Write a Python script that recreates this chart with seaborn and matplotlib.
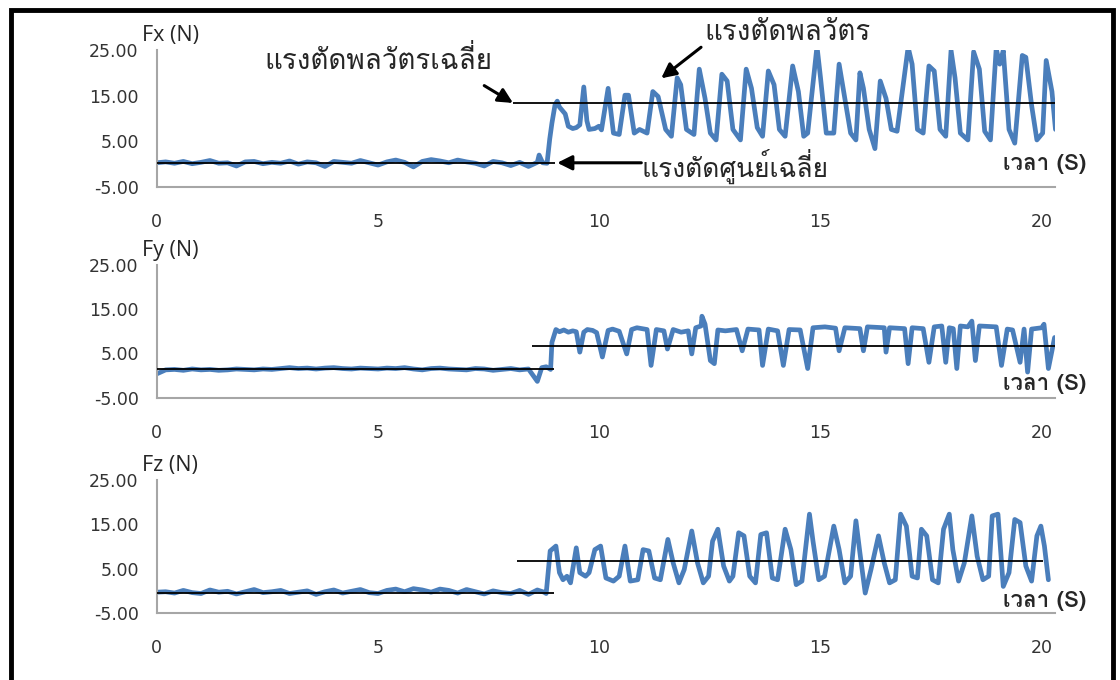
"""
Cutting forces Fx, Fy, Fz against time, idle and cutting phases
with the mean-force lines.
"""

import numpy as np
import matplotlib
matplotlib.use('Agg')
import matplotlib.pyplot as plt
from matplotlib import font_manager
from matplotlib.patches import Rectangle
import seaborn as sns

# ---------------------------------------------------------------- data
# idle part (tool not cutting), sampled every 0.2 s from 0 to 8.6 s
idle_step = 0.2
fx_idle = [0.3, 0.5, 0.2, 0.6, 0.1, 0.4, 0.8, 0.2, 0.3, -0.4,
           0.5, 0.6, 0.1, 0.4, 0.2, 0.7, 0.0, 0.5, 0.3, -0.5,
           0.6, 0.4, 0.2, 0.8, 0.3, -0.2, 0.5, 0.9, 0.4, -0.6,
           0.6, 1.0, 0.7, 0.3, 0.9, 0.5, 0.2, -0.4, 0.6, 0.3,
           -0.3, 0.4, -0.5, 0.4]
fy_idle = [0.4, 1.3, 1.4, 1.2, 1.5, 1.3, 1.4, 1.2, 1.3, 1.5,
           1.4, 1.3, 1.5, 1.4, 1.6, 1.8, 1.6, 1.7, 1.5, 1.7,
           1.8, 1.6, 1.5, 1.7, 1.6, 1.5, 1.7, 1.6, 1.8, 1.5,
           1.3, 1.6, 1.7, 1.5, 1.4, 1.3, 1.6, 1.5, 1.2, 1.4,
           1.6, 1.3, 1.5, -1.3]
fz_idle = [-0.3, -0.2, -0.5, 0.1, -0.4, -0.6, 0.2, -0.3, -0.1, -0.7,
           -0.2, 0.3, -0.4, -0.2, 0.1, -0.6, -0.3, 0.0, -0.8, -0.2,
           0.2, -0.5, -0.1, 0.3, -0.4, -0.6, 0.1, 0.4, -0.2, 0.5,
           0.2, -0.3, 0.4, 0.1, -0.5, 0.3, -0.2, -0.7, 0.0, -0.4,
           -0.6, 0.1, -0.8, 0.2]

# cutting part, peaks and troughs
fx_cut_t = [8.64, 8.72, 8.82, 8.88, 8.93, 9.00, 9.05, 9.10, 9.23, 9.30,
            9.40, 9.48, 9.56, 9.65, 9.72, 9.77, 9.90, 9.99, 10.05, 10.20,
            10.32, 10.45, 10.58, 10.66, 10.79, 10.91, 11.08, 11.21, 11.33, 11.50,
            11.63, 11.76, 11.84, 11.97, 12.14, 12.26, 12.39, 12.51, 12.64, 12.77,
            12.89, 13.02, 13.19, 13.32, 13.44, 13.57, 13.69, 13.82, 13.95, 14.07,
            14.20, 14.37, 14.50, 14.62, 14.71, 14.92, 15.00, 15.13, 15.30, 15.42,
            15.55, 15.68, 15.80, 15.89, 15.97, 16.10, 16.23, 16.35, 16.48, 16.60,
            16.73, 16.98, 17.07, 17.19, 17.32, 17.45, 17.57, 17.70, 17.83, 17.95,
            18.04, 18.16, 18.33, 18.46, 18.59, 18.71, 18.84, 18.97, 19.05, 19.13,
            19.26, 19.39, 19.56, 19.64, 19.77, 19.89, 20.02, 20.10, 20.23, 20.31]
fx_cut = [2.0, 0.3, 0.2, 5.5, 9.0, 13.0, 13.8, 12.5, 11.0, 8.3,
          7.8, 8.0, 8.6, 16.9, 9.5, 7.6, 7.8, 8.3, 7.5, 16.6,
          6.8, 6.5, 15.1, 15.1, 6.8, 7.6, 6.8, 15.9, 14.8, 7.6,
          6.1, 18.9, 17.4, 7.6, 6.5, 20.8, 14.4, 6.8, 5.3, 19.7,
          18.2, 7.6, 5.3, 20.8, 16.6, 8.0, 6.1, 20.4, 17.4, 7.6,
          6.1, 21.5, 15.9, 6.1, 6.8, 25.8, 18.9, 6.8, 6.8, 21.9,
          14.4, 6.8, 5.3, 20.0, 16.6, 7.6, 3.4, 18.2, 14.4, 7.6,
          7.2, 25.6, 21.9, 7.6, 6.8, 21.5, 20.4, 7.6, 6.1, 24.9,
          18.9, 6.8, 5.3, 24.6, 20.8, 7.2, 5.3, 25.3, 21.9, 24.9,
          7.6, 4.6, 23.8, 23.4, 12.9, 5.3, 6.8, 22.7, 15.9, 7.6]

fy_cut_t = [8.70, 8.80, 8.90, 8.93, 9.02, 9.10, 9.20, 9.30, 9.40, 9.48,
            9.56, 9.65, 9.73, 9.85, 9.94, 10.07, 10.20, 10.30, 10.45, 10.62,
            10.73, 10.85, 11.08, 11.17, 11.29, 11.46, 11.54, 11.67, 11.85, 12.01,
            12.09, 12.18, 12.30, 12.32, 12.39, 12.51, 12.60, 12.68, 12.85, 13.10,
            13.23, 13.36, 13.61, 13.69, 13.82, 14.03, 14.16, 14.29, 14.54, 14.71,
            14.83, 15.10, 15.34, 15.42, 15.55, 15.89, 15.97, 16.06, 16.44, 16.48,
            16.56, 16.90, 16.98, 17.07, 17.32, 17.45, 17.57, 17.74, 17.83, 17.91,
            18.00, 18.08, 18.16, 18.33, 18.42, 18.50, 18.59, 18.97, 19.09, 19.22,
            19.34, 19.51, 19.60, 19.68, 19.77, 20.00, 20.05, 20.15, 20.29]
fy_cut = [1.8, 2.0, 1.4, 7.5, 10.4, 9.9, 10.3, 9.8, 10.1, 9.9,
          5.3, 9.8, 10.4, 10.2, 9.7, 4.2, 10.2, 10.5, 10.0, 4.9,
          10.4, 10.8, 10.4, 2.3, 10.4, 10.1, 6.0, 10.4, 9.8, 10.1,
          4.9, 10.8, 11.2, 13.4, 11.6, 3.4, 2.7, 10.3, 10.1, 10.4,
          5.6, 10.5, 10.3, 2.3, 10.5, 10.1, 2.3, 10.4, 10.3, 1.6,
          10.8, 11.0, 10.7, 5.6, 10.8, 10.6, 5.6, 11.0, 10.8, 5.3,
          10.8, 10.6, 2.7, 10.8, 10.6, 3.0, 11.0, 11.2, 3.0, 10.8,
          10.6, 1.6, 11.2, 11.0, 12.3, 3.4, 11.2, 11.0, 2.3, 10.5,
          10.3, 3.0, 10.5, 0.8, 10.5, 10.8, 11.6, 1.6, 8.6]

fz_cut_t = [8.75, 8.80, 8.85, 8.89, 9.02, 9.10, 9.18, 9.27, 9.35, 9.48,
            9.56, 9.69, 9.77, 9.90, 10.03, 10.15, 10.32, 10.45, 10.58, 10.70,
            10.87, 10.99, 11.12, 11.25, 11.38, 11.55, 11.67, 11.80, 11.92, 12.09,
            12.22, 12.35, 12.47, 12.56, 12.68, 12.81, 12.94, 13.02, 13.15, 13.27,
            13.40, 13.53, 13.65, 13.78, 13.91, 14.03, 14.20, 14.33, 14.45, 14.58,
            14.75, 14.83, 14.96, 15.09, 15.30, 15.42, 15.55, 15.68, 15.80, 15.89,
            16.01, 16.14, 16.31, 16.44, 16.56, 16.69, 16.81, 16.94, 17.07, 17.19,
            17.28, 17.40, 17.53, 17.66, 17.78, 17.91, 17.99, 18.12, 18.25, 18.42,
            18.54, 18.67, 18.80, 18.88, 19.01, 19.13, 19.26, 19.39, 19.51, 19.64,
            19.77, 19.89, 19.98, 20.06, 20.15]
fz_cut = [-0.3, -0.6, 4.8, 9.0, 10.1, 4.1, 2.5, 3.3, 1.8, 9.7,
          4.1, 3.3, 4.1, 9.3, 10.1, 2.9, 2.2, 3.3, 10.1, 2.2,
          2.5, 9.3, 9.0, 2.9, 2.5, 11.6, 6.3, 1.8, 4.8, 13.5,
          6.3, 1.8, 3.3, 11.2, 13.9, 5.6, 2.2, 3.3, 13.1, 12.4,
          3.3, 1.8, 12.7, 13.1, 2.9, 2.5, 13.9, 9.3, 1.4, 2.2,
          17.3, 11.2, 2.5, 3.3, 14.6, 9.3, 1.8, 3.3, 15.8, 8.6,
          -0.5, 4.8, 12.4, 6.3, 1.8, 2.5, 17.3, 14.6, 3.3, 2.9,
          13.9, 12.4, 2.5, 1.8, 13.9, 17.3, 9.3, 2.2, 6.3, 16.9,
          7.8, 2.5, 3.3, 16.9, 17.3, 1.0, 4.1, 16.1, 15.4, 5.6,
          2.2, 12.4, 14.6, 10.1, 2.5]

# mean lines: [value, start time, end time]
fx_mean_idle = [0.3, 0.0, 9.0]
fx_mean_cut = [13.4, 8.05, 20.3]
fy_mean_idle = [1.4, 0.0, 8.97]
fy_mean_cut = [6.6, 8.48, 20.3]
fz_mean_idle = [-0.4, 0.0, 8.97]
fz_mean_cut = [6.7, 8.14, 20.02]

y_ticks = [-5, 5, 15, 25]
x_ticks = [0, 5, 10, 15, 20]
panel_labels = ['Fx (N)', 'Fy (N)', 'Fz (N)']
time_label = 'เวลา (S)'
label_mean_cut = 'แรงตัดพลวัตรเฉลี่ย'
label_cut = 'แรงตัดพลวัตร'
label_mean_idle = 'แรงตัดศูนย์เฉลี่ย'

LINE_BLUE = '#4a7ebb'
AXIS_GREY = '#a6a6a6'
TICK_TEXT = '#333333'


def find_thai_font():
    """Return the name of an installed font that has Thai glyphs."""
    try:
        from fontTools.ttLib import TTFont
    except ImportError:
        return 'DejaVu Sans'
    for f in font_manager.fontManager.ttflist:
        try:
            cmap = TTFont(f.fname, fontNumber=0, lazy=True).getBestCmap()
        except Exception:
            continue
        if cmap and 0x0E41 in cmap:
            return f.name
    return 'DejaVu Sans'


sns.set_style('white')
plt.rcParams['font.family'] = ['DejaVu Sans']
thai_font = [find_thai_font(), 'DejaVu Sans']

fig = plt.figure(figsize=(11.2, 6.8), dpi=100)

# axes boxes in figure fractions: left, bottom, width, height
boxes = [
    [0.140, 0.725, 0.802, 0.2015],
    [0.140, 0.415, 0.802, 0.1956],
    [0.140, 0.0985, 0.802, 0.1956],
]

idle_t = list(np.round(np.arange(len(fx_idle)) * idle_step, 2))
series = [
    (idle_t + fx_cut_t, fx_idle + fx_cut, fx_mean_idle, fx_mean_cut),
    (idle_t + fy_cut_t, fy_idle + fy_cut, fy_mean_idle, fy_mean_cut),
    (idle_t + fz_cut_t, fz_idle + fz_cut, fz_mean_idle, fz_mean_cut),
]
time_label_y = [0.17, 0.10, 0.09]

axes = []
for i, (t, v, m_idle, m_cut) in enumerate(series):
    ax = fig.add_axes(boxes[i])
    sns.lineplot(x=t, y=v, ax=ax, color=LINE_BLUE, linewidth=3.4,
                 estimator=None, sort=False)
    ax.hlines(m_idle[0], m_idle[1], m_idle[2], color='black', lw=1.3, zorder=3)
    ax.hlines(m_cut[0], m_cut[1], m_cut[2], color='black', lw=1.3, zorder=3)

    ax.set_xlim(0, 20.3)
    ax.set_ylim(-5, 25)
    ax.set_yticks(y_ticks)
    ax.set_yticklabels([f'{y:.2f}' for y in y_ticks])
    ax.set_xticks(x_ticks)
    ax.set_xticklabels([str(x) for x in x_ticks])
    ax.tick_params(axis='y', length=0, pad=13, labelsize=12.5, labelcolor=TICK_TEXT)
    ax.tick_params(axis='x', length=0, pad=19, labelsize=12.5, labelcolor=TICK_TEXT)
    for side in ['top', 'right']:
        ax.spines[side].set_visible(False)
    for side in ['left', 'bottom']:
        ax.spines[side].set_color(AXIS_GREY)
        ax.spines[side].set_linewidth(1.5)
    ax.set_xlabel('')
    ax.set_ylabel('')
    ax.patch.set_alpha(0)

    # panel title like "Fx (N)" sitting above the y axis
    ax.text(-0.016, 1.03, panel_labels[i], transform=ax.transAxes,
            ha='left', va='bottom', fontsize=15.5, family=['Open Sans', 'DejaVu Sans'])
    ax.text(0.988, time_label_y[i], time_label, transform=ax.transAxes,
            ha='center', va='center', fontsize=16, fontweight='bold',
            family=thai_font)
    axes.append(ax)

# annotations on the Fx panel
ax = axes[0]
arrow = dict(arrowstyle='-|>', color='black', lw=2.2, mutation_scale=22,
             shrinkA=0, shrinkB=0)
ax.text(5.0, 22.6, label_mean_cut, ha='center', va='center',
        fontsize=20, family=thai_font)
ax.annotate('', xy=(fx_mean_cut[1], fx_mean_cut[0]), xytext=(7.4, 17.2),
            arrowprops=arrow, annotation_clip=False)
ax.text(14.25, 28.8, label_cut, ha='center', va='center',
        fontsize=20, family=thai_font, clip_on=False)
ax.annotate('', xy=(11.4, 18.8), xytext=(12.3, 25.6),
            arrowprops=arrow, annotation_clip=False)
ax.text(10.95, -0.4, label_mean_idle, ha='left', va='center',
        fontsize=19, family=thai_font)
ax.annotate('', xy=(fx_mean_idle[2] + 0.05, fx_mean_idle[0]),
            xytext=(10.95, fx_mean_idle[0]),
            arrowprops=arrow, annotation_clip=False)

# black frame round the whole picture, open at the bottom edge
fig.patches.append(Rectangle((0.0095, -0.05), 0.984, 1.035,
                             transform=fig.transFigure, fill=False,
                             lw=3.5, edgecolor='black'))

fig.savefig('out.png', dpi=100)
